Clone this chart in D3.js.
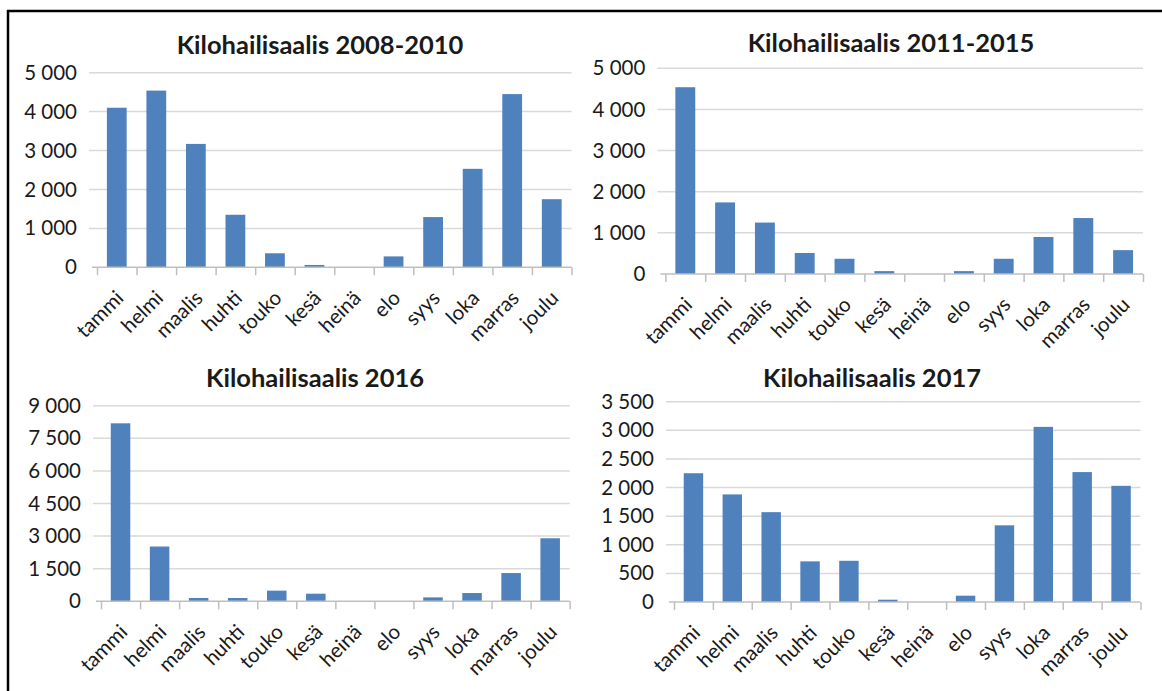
<!DOCTYPE html>
<html>
<head>
<meta charset="utf-8">
<script src="https://cdn.jsdelivr.net/npm/d3@7"></script>
<style>
  body { margin: 0; background: #fff; }
  svg { display: block; }
  text { font-family: Lato, "Noto Sans", sans-serif; fill: #1a1a1a; }
</style>
</head>
<body>
<div class="chart-wrapper"></div>
<script>
const months = ['tammi', 'helmi', 'maalis', 'huhti', 'touko', 'kesä', 'heinä', 'elo', 'syys', 'loka', 'marras', 'joulu']

// catch per month
const catch0810 = [4100, 4540, 3170, 1350, 360, 60, 0, 280, 1290, 2530, 4450, 1750]
const catch1115 = [4540, 1740, 1250, 510, 370, 70, 0, 70, 370, 900, 1360, 580]
const catch2016 = [8190, 2520, 150, 150, 490, 350, 0, 0, 180, 380, 1300, 2900]
const catch2017 = [2250, 1880, 1570, 710, 720, 40, 0, 110, 1340, 3060, 2270, 2030]

const titles = ['Kilohailisaalis 2008-2010', 'Kilohailisaalis 2011-2015', 'Kilohailisaalis 2016', 'Kilohailisaalis 2017']
const ticks0810 = [0, 1000, 2000, 3000, 4000, 5000]
const ticks1115 = [0, 1000, 2000, 3000, 4000, 5000]
const ticks2016 = [0, 1500, 3000, 4500, 6000, 7500, 9000]
const ticks2017 = [0, 500, 1000, 1500, 2000, 2500, 3000, 3500]

const width = 1162
const height = 691

// plot boxes (left, right, top, bottom) and title position for each panel
const panels = [
    {values: catch0810, ticks: ticks0810, title: titles[0], l: 97, r: 571.5, t: 72.7, b: 267.3, tx: 320, ty: 54},
    {values: catch1115, ticks: ticks1115, title: titles[1], l: 665.4, r: 1143, t: 68.3, b: 274, tx: 891, ty: 51.5},
    {values: catch2016, ticks: ticks2016, title: titles[2], l: 101, r: 569.7, t: 405.7, b: 601.3, tx: 315, ty: 386.5},
    {values: catch2017, ticks: ticks2017, title: titles[3], l: 674, r: 1140.5, t: 401.7, b: 602, tx: 872, ty: 386.5}
]

const fmt = d3.formatLocale({decimal: ',', thousands: '\u00a0', grouping: [3], currency: ['', '']}).format(',d')

let svg = d3.select('.chart-wrapper').append('svg')
    .attr('width', width)
    .attr('height', height)

// black frame round the picture
svg.append('line').attr('x1', 7).attr('x2', width).attr('y1', 11).attr('y2', 11)
    .attr('stroke', '#000').attr('stroke-width', 2.5)
svg.append('line').attr('x1', 8).attr('x2', 8).attr('y1', 10).attr('y2', height)
    .attr('stroke', '#000').attr('stroke-width', 2.5)

panels.forEach(p => {
    let g = svg.append('g')

    let x = d3.scaleBand()
        .domain(months)
        .range([p.l, p.r])
        .paddingInner(0.5)
        .paddingOuter(0.25)

    let y = d3.scaleLinear()
        .domain([0, d3.max(p.ticks)])
        .range([p.b, p.t])

    // gridlines
    g.append('g').selectAll('line')
        .data(p.ticks.filter(d => d > 0))
        .enter().append('line')
        .attr('x1', p.l - 8)
        .attr('x2', p.r)
        .attr('y1', d => y(d))
        .attr('y2', d => y(d))
        .attr('stroke', '#d9d9d9')
        .attr('stroke-width', 1.5)

    // y tick labels
    let yAxis = g.append('g')
        .attr('transform', `translate(${p.l - 8}, 0)`)
        .call(d3.axisLeft(y).tickValues(p.ticks).tickFormat(fmt).tickSize(0).tickPadding(12))
    yAxis.select('.domain').remove()
    yAxis.selectAll('text')
        .style('font-size', '20.5px')
        .style('font-family', 'Lato, sans-serif')
        .attr('fill', '#1a1a1a')

    // bars
    g.append('g').selectAll('rect')
        .data(p.values)
        .enter().append('rect')
        .attr('x', (d, i) => x(months[i]))
        .attr('width', x.bandwidth())
        .attr('y', d => y(d))
        .attr('height', d => p.b - y(d))
        .attr('fill', '#4f81bd')

    // x axis line and category boundary ticks
    let bx = d3.scaleLinear().domain([0, months.length]).range([p.l, p.r])
    let xAxis = g.append('g')
        .attr('transform', `translate(0, ${p.b})`)
        .call(d3.axisBottom(bx).tickValues(d3.range(months.length + 1)).tickFormat('').tickSize(8).tickSizeOuter(0))
    xAxis.select('.domain').attr('stroke', '#bfbfbf').attr('stroke-width', 1.5)
        .attr('d', `M${p.l - 5},0H${p.r}`)
    xAxis.selectAll('.tick line').attr('stroke', '#bfbfbf').attr('stroke-width', 1.5)

    // month labels, turned 45 degrees
    g.append('g').selectAll('text')
        .data(months)
        .enter().append('text')
        .attr('text-anchor', 'end')
        .attr('dy', '0.35em')
        .attr('transform', d => `translate(${x(d) + x.bandwidth() / 2 + 3}, ${p.b + 27}) rotate(-45)`)
        .style('font-size', '20.5px')
        .text(d => d)

    // title
    g.append('text')
        .attr('x', p.tx)
        .attr('y', p.ty)
        .attr('text-anchor', 'middle')
        .style('font-size', '25.5px')
        .style('font-weight', 'bold')
        .text(p.title)
})
</script>
</body>
</html>
